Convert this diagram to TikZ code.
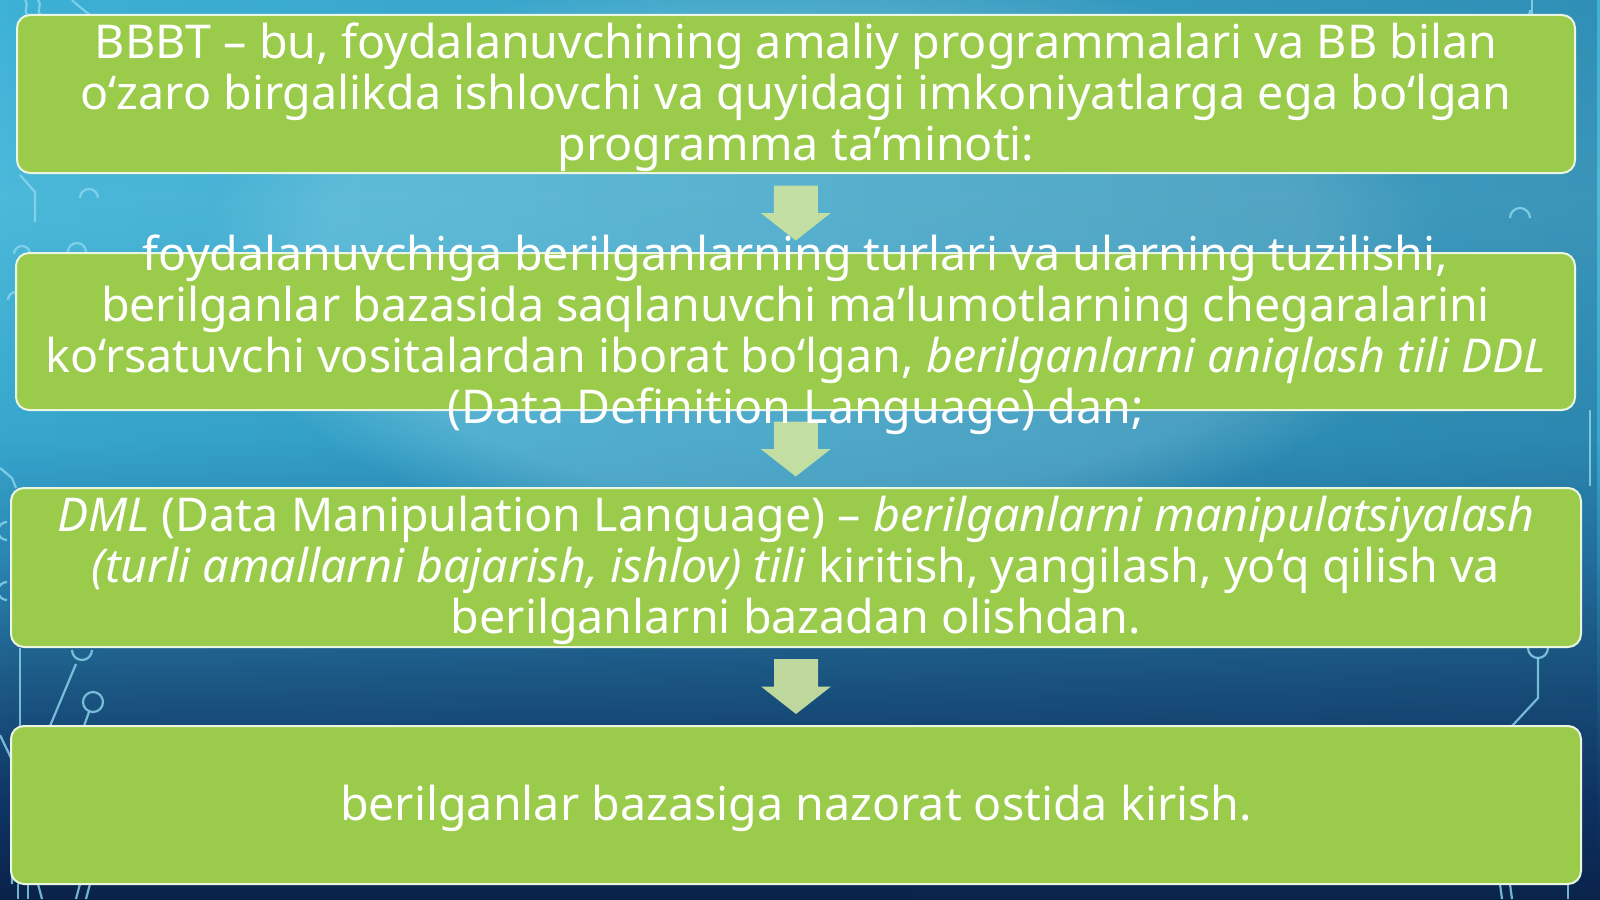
\documentclass[tikz,border=0pt]{standalone}
\usepackage{fontspec}
\setmainfont{Noto Sans}
\usetikzlibrary{calc,fadings}
\definecolor{boxgreen}{HTML}{9BCB4A}
\definecolor{boxedge}{HTML}{EAF6E2}
\definecolor{arrfill}{HTML}{CDE3A0}
\definecolor{circcol}{HTML}{8ED8EE}
\definecolor{navyA}{HTML}{0A2248}
\definecolor{navyB}{HTML}{0F3566}
\definecolor{blueC}{HTML}{1D5A86}
\definecolor{blueD}{HTML}{2A84B2}
\definecolor{cyanE}{HTML}{36A6CD}
\definecolor{cyanF}{HTML}{4CB9DA}
\definecolor{cyanG}{HTML}{3DB1D6}
\definecolor{glowcol}{HTML}{7CD0E6}
\definecolor{darkside}{HTML}{0A2A55}
\pgfdeclareverticalshading{bgvert}{100bp}{color(0bp)=(navyA); color(25bp)=(navyA); color(30.5bp)=(navyB); color(37.2bp)=(blueC); color(43.9bp)=(blueD); color(50.5bp)=(cyanE); color(63.9bp)=(cyanF); color(75bp)=(cyanG); color(100bp)=(cyanG)}
\tikzfading[name=clearleft, left color=transparent!100, right color=transparent!0]
\pgfdeclarelayer{bglayer}
\pgfdeclarelayer{arrlayer}
\pgfsetlayers{bglayer,arrlayer,main}
\tikzset{
  greenbox/.style={draw=boxedge, line width=1pt, fill=boxgreen, rounded corners=6.5pt, inner sep=0pt},
  boxtext/.style={text=white, align=center, inner sep=0pt, yshift=-1.5pt, font=\fontsize{23.3pt}{25.5pt}\selectfont},
  blockarrow/.style={fill=arrfill, fill opacity=0.92},
  circ/.style={draw=circcol, line width=1.1pt, opacity=0.8},
}
\begin{document}
\begin{tikzpicture}[x=0.5pt,y=-0.5pt]
\useasboundingbox (0,0) rectangle (1600,899);
\begin{pgfonlayer}{bglayer}
  \shade[shading=bgvert] (0,0) rectangle (1600,899);
  \fill[glowcol, opacity=0.5, path fading=circle with fuzzy edge 20 percent] (820,260) ellipse (620 and 300);
  \fill[darkside, opacity=0.25, path fading=clearleft] (0,0) rectangle (1600,899);
  % circuit decorations
  \draw[circ] (25,0) .. controls (30,6) and (22,10) .. (28,15);
  \draw[circ] (38,0) .. controls (43,6) and (35,10) .. (41,15);
  \draw[circ] (72,0) .. controls (78,6) and (84,10) .. (90,15);
  \draw[circ] (20,175) -- (35,192) -- (35,222);
  \draw[circ] (80,198) arc (180:360:9);
  \draw[circ] (68,252) arc (180:360:9);
  \draw[circ] (14,254) arc (180:360:8);
  \draw[circ] (8,300) arc (180:270:8);
  \draw[circ] (1530,10) arc (0:60:12);
  \draw[circ] (1532,0) -- (1532,14);
  \draw[circ] (1530,218) arc (0:-180:10);
  \draw[circ] (1590,410) -- (1590,486);
  \draw[circ] (0,468) -- (12,478) -- (16,488);
  \draw[circ] (7,540) arc (90:270:9);
  \draw[circ] (7,600) arc (90:270:9);
  \draw[circ] (20,648) -- (20,726);
  \draw[circ] (50,726) -- (76,664);
  \draw[circ] (72,650) arc (180:0:10);
  \draw[circ] (84,726) -- (89,712);
  \draw[circ] (93,702) circle (10);
  \draw[circ] (1528,648) arc (180:0:10);
  \draw[circ] (1538,658) -- (1538,698) -- (1512,726);
  \draw[circ] (0,735) -- (12,760) -- (12,884);
  \draw[circ] (18,884) -- (18,899);
  \draw[circ] (28,884) -- (28,899);
  \draw[circ] (38,884) -- (42,899);
  \draw[circ] (80,884) -- (76,899);
  \draw[circ] (90,884) -- (86,899);
  \draw[circ] (1500,884) -- (1502,899);
  \draw[circ] (1510,884) -- (1512,899);
  \draw[circ] (1568,884) -- (1568,899);
\end{pgfonlayer}

% boxes
\node[greenbox, minimum width=779pt, minimum height=79pt] (b1) at (796,94) {};
\node[greenbox, minimum width=779.5pt, minimum height=78.5pt] (b2) at (795.5,331.5) {};
\node[greenbox, minimum width=785pt, minimum height=79.5pt] (b3) at (796,567.5) {};
\node[greenbox, minimum width=785pt, minimum height=79pt] (b4) at (796,805) {};

% block arrows between boxes
\begin{pgfonlayer}{arrlayer}
\foreach \up/\dn/\m in {b1/b2/m1, b2/b3/m2, b3/b4/m3}{
  \coordinate (\m) at ($(\up.south)!0.5!(\dn.north)$);
  \fill[blockarrow] ([shift={(-22,-27.5)}]\m) -- ([shift={(22,-27.5)}]\m)
    -- ([shift={(22,0)}]\m) -- ([shift={(35,0)}]\m) -- ([shift={(0,27.5)}]\m)
    -- ([shift={(-35,0)}]\m) -- ([shift={(-22,0)}]\m) -- cycle;
}
\end{pgfonlayer}

% texts
\node[boxtext] (t1) at (b1.center) {BBBT – bu, foydalanuvchining amaliy programmalari va BB bilan\\o‘zaro birgalikda ishlovchi va quyidagi imkoniyatlarga ega bo‘lgan\\programma ta’minoti:};
\node[boxtext] (t2) at (b2.center) {foydalanuvchiga berilganlarning turlari va ularning tuzilishi,\\berilganlar bazasida saqlanuvchi ma’lumotlarning chegaralarini\\ko‘rsatuvchi vositalardan iborat bo‘lgan, \textit{berilganlarni aniqlash tili DDL}\\(Data Definition Language) dan;};
\node[boxtext] (t3) at (b3.center) {\textit{DML} (Data Manipulation Language) – \textit{berilganlarni manipulatsiyalash}\\\textit{(turli amallarni bajarish, ishlov) tili} kiritish, yangilash, yo‘q qilish va\\berilganlarni bazadan olishdan.};
\node[boxtext] (t4) at (b4.center) {berilganlar bazasiga nazorat ostida kirish.};
\end{tikzpicture}
\end{document}
